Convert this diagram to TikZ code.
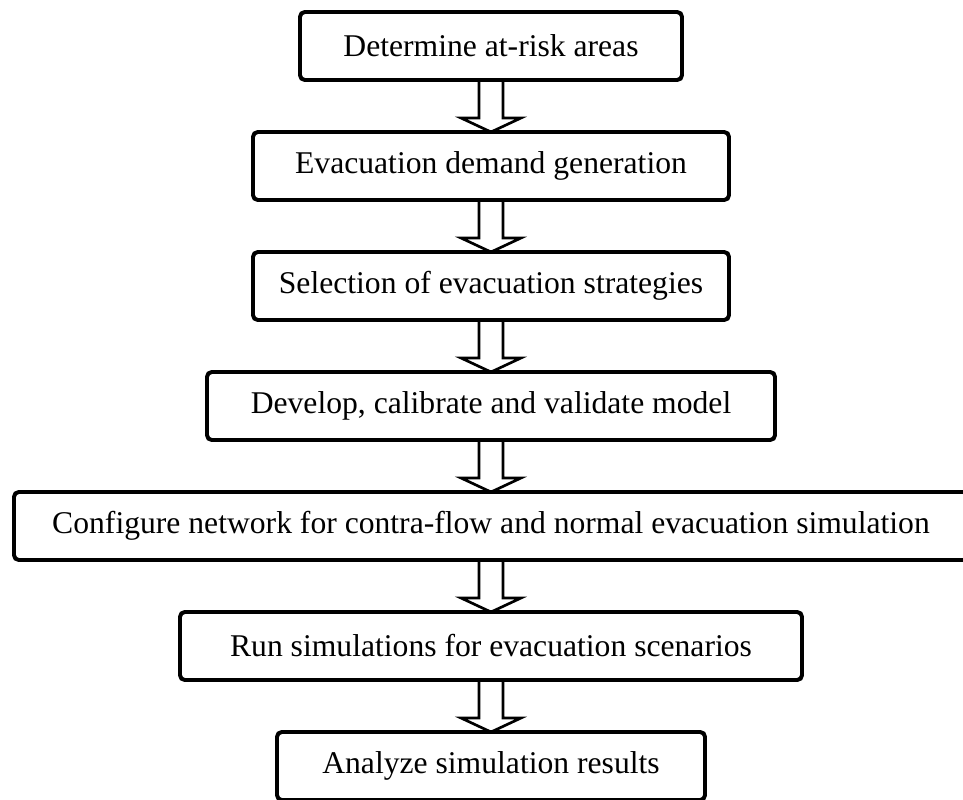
\documentclass[tikz,border=0pt]{standalone}
\usepackage{fontspec}
\setmainfont{Liberation Serif}
\usetikzlibrary{positioning,calc}

\begin{document}
\begin{tikzpicture}[
    font=\fontsize{22.5}{27}\selectfont,
    stagebox/.style={draw, line width=2.8pt, rounded corners=1.2mm, align=center, minimum height=1.7cm, inner sep=0pt, outer sep=0pt},
    hollowarrow/.style={draw, line width=1.9pt, line join=miter,
      to path={($(\tikztostart)+(-0.3,0)$) -- ($(\tikztotarget)+(-0.3,0.35)$) -- ++(-0.45,0) -- (\tikztotarget)
        -- ++(0.75,0.35) -- ++(-0.45,0) -- ($(\tikztostart)+(0.3,0)$)}}
  ]
  \useasboundingbox (0,0) rectangle (24.075,-19.975);

  \node[stagebox, minimum width=9.55cm] (risk) at (12.275,-1.15) {Determine at-risk areas};
  \node[stagebox, minimum width=11.9cm, below=1.3cm of risk] (demand) {Evacuation demand generation};
  \node[stagebox, minimum width=11.9cm, below=1.3cm of demand] (strategy) {Selection of evacuation strategies};
  \node[stagebox, minimum width=14.2cm, below=1.3cm of strategy] (model) {Develop, calibrate and validate model};
  \node[stagebox, minimum width=23.85cm, below=1.3cm of model] (network) {Configure network for contra-flow and normal evacuation simulation};
  \node[stagebox, minimum width=15.55cm, below=1.3cm of network] (runsim) {Run simulations for evacuation scenarios};
  \node[stagebox, minimum width=10.7cm, below=1.3cm of runsim] (results) {Analyze simulation results};

  \draw[hollowarrow] (risk.south) to (demand.north);
  \draw[hollowarrow] (demand.south) to (strategy.north);
  \draw[hollowarrow] (strategy.south) to (model.north);
  \draw[hollowarrow] (model.south) to (network.north);
  \draw[hollowarrow] (network.south) to (runsim.north);
  \draw[hollowarrow] (runsim.south) to (results.north);
\end{tikzpicture}
\end{document}
